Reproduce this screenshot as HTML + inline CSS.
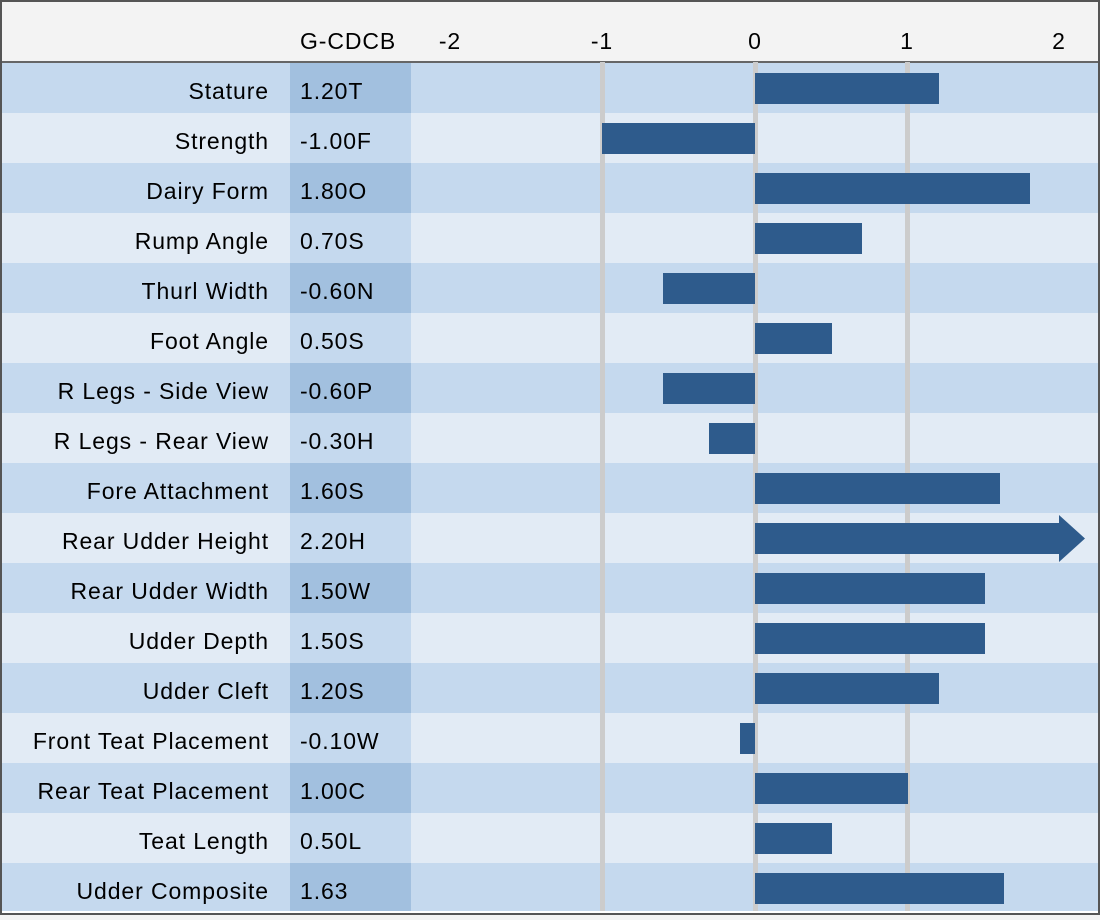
<!DOCTYPE html>
<html><head><meta charset="utf-8"><style>
html,body{margin:0;padding:0}
body{width:1100px;height:917px;position:relative;overflow:hidden;background:#f3f3f3;font-family:"Liberation Sans",sans-serif;font-size:23px;letter-spacing:0.9px;color:#000}
.a{position:absolute}
.row{position:absolute;left:0;width:1100px;height:50px}
.lab{position:absolute;right:831px;top:0;line-height:57px;white-space:nowrap}
.val{position:absolute;left:290px;width:121px;height:50px}
.vt{position:absolute;left:300px;line-height:57px}
.grid{position:absolute;top:62px;height:851px;width:5px;background:#cccccc}
.bar{position:absolute;height:31px;background:#2e5b8c}
.tk{position:absolute;top:28px;width:40px;text-align:center;margin-left:-20px}
</style></head><body>
<div class="a" style="left:300px;top:28px">G-CDCB</div>
<div class="tk" style="left:450px">-2</div>
<div class="tk" style="left:602px">-1</div>
<div class="tk" style="left:755px">0</div>
<div class="tk" style="left:907px">1</div>
<div class="tk" style="left:1059px">2</div>
<div class="a" style="left:0;top:61px;width:1100px;height:2px;background:#666"></div>
<div id="rows"></div>
<div class="a" style="left:0;top:0;width:1096px;height:911px;border:2px solid #555;z-index:5"></div>
<div class="a" style="left:2px;top:911px;width:1096px;height:2px;background:#fff;z-index:4"></div>
<script>
const d=[["Stature","1.20T",1.2],["Strength","-1.00F",-1],["Dairy Form","1.80O",1.8],["Rump Angle","0.70S",0.7],["Thurl Width","-0.60N",-0.6],["Foot Angle","0.50S",0.5],["R Legs - Side View","-0.60P",-0.6],["R Legs - Rear View","-0.30H",-0.3],["Fore Attachment","1.60S",1.6],["Rear Udder Height","2.20H",2.2],["Rear Udder Width","1.50W",1.5],["Udder Depth","1.50S",1.5],["Udder Cleft","1.20S",1.2],["Front Teat Placement","-0.10W",-0.1],["Rear Teat Placement","1.00C",1.0],["Teat Length","0.50L",0.5],["Udder Composite","1.63",1.63]];
let h="";
d.forEach((r,i)=>{const y=63+i*50;const dk=i%2==0;
h+=`<div class="row" style="top:${y}px;background:${dk?'#c5d9ee':'#e2ebf5'}"><div class="lab">${r[0]}</div><div class="val" style="background:${dk?'#a2c0df':'#c5d9ee'}"></div><div class="vt">${r[1]}</div></div>`;});
[600,753,905].forEach(x=>h+=`<div class="grid" style="left:${x}px"></div>`);
d.forEach((r,i)=>{const y=63+i*50+10;const v=r[2];
if(v>2.1){h+=`<div class="bar" style="left:755px;top:${y}px;width:305px"></div><svg class="a" style="left:1059px;top:${y-8}px" width="27" height="47"><polygon points="0,0 26,23.5 0,47" fill="#2e5b8c"/></svg>`;}
else{const w=Math.abs(v)*153;const x=v>=0?755:755-w;h+=`<div class="bar" style="left:${x}px;top:${y}px;width:${w}px"></div>`;}});
document.getElementById('rows').innerHTML=h;
</script>
</body></html>
